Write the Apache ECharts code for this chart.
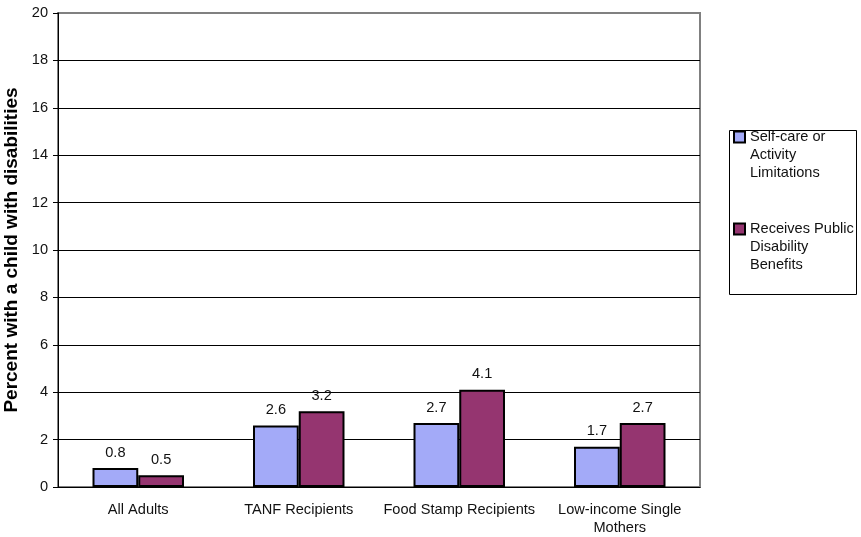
<!DOCTYPE html>
<html>
<head>
<meta charset="utf-8">
<script src="https://cdn.jsdelivr.net/npm/echarts@6/dist/echarts.min.js"></script>
<style>
  html, body { margin: 0; padding: 0; background: #fff; }
  #container { width: 861px; height: 537px; }
</style>
</head>
<body>
<div id="container"></div>
<script>
let categories = ['All Adults', 'TANF Recipients', 'Food Stamp Recipients', 'Low-income Single\nMothers'];
let selfCare = [0.8, 2.6, 2.7, 1.7];
let publicBenefits = [0.5, 3.2, 4.1, 2.7];
let seriesNames = ['Self-care or\nActivity\nLimitations', 'Receives Public\nDisability\nBenefits'];

let dom = document.getElementById("container");
let myChart = echarts.init(dom);
let font = 'Liberation Sans, Arial, sans-serif';

// split lines black, the top one grey like the plot border
let splitColors = [];
for (let i = 0; i < 10; i++) splitColors.push('#000');
splitColors.push('#808080');

let barLabel = {
    show: true,
    position: 'top',
    distance: 8,
    color: '#111',
    fontSize: 14.6,
    fontFamily: font
};

let option = {
    animation: false,
    grid: {
        left: 58, right: 161, top: 13, bottom: 50,
        outerBoundsMode: 'none',
        containLabel: false,
        show: true,
        borderColor: '#808080',
        borderWidth: 2
    },
    legend: {
        orient: 'vertical',
        left: 733,
        top: 92,
        padding: 0,
        itemGap: 2,
        itemWidth: 11,
        itemHeight: 11,
        icon: 'rect',
        selectedMode: false,
        // two blank lines in front so the icon sits beside the first line
        formatter: function (name) { return '\n\n' + name; },
        textStyle: {
            fontSize: 14.6,
            fontFamily: font,
            color: '#111',
            lineHeight: 18
        }
    },
    graphic: [{
        type: 'rect',
        shape: { x: 729.5, y: 130.5, width: 127, height: 164 },
        style: { fill: 'none', stroke: '#000', lineWidth: 1 },
        silent: true
    }],
    xAxis: {
        type: 'category',
        data: categories,
        axisLine: { lineStyle: { color: '#000', width: 1 } },
        axisTick: { length: 5, lineStyle: { color: '#000' } },
        axisLabel: {
            color: '#111',
            fontSize: 14.6,
            fontFamily: font,
            margin: 14,
            lineHeight: 18,
            interval: 0
        }
    },
    yAxis: {
        type: 'value',
        min: 0,
        max: 20,
        interval: 2,
        name: 'Percent with a child with disabilities',
        nameLocation: 'middle',
        nameGap: 37,
        nameTextStyle: {
            fontSize: 19,
            fontWeight: 'bold',
            fontFamily: font,
            color: '#000'
        },
        axisLine: { show: true, lineStyle: { color: '#000', width: 1 } },
        axisTick: { show: true, length: 5, lineStyle: { color: '#000' } },
        axisLabel: {
            color: '#111',
            fontSize: 14.6,
            fontFamily: font,
            margin: 10
        },
        splitLine: { lineStyle: { color: splitColors, width: 1 } }
    },
    series: [{
        name: seriesNames[0],
        type: 'bar',
        data: selfCare,
        barGap: '0%',
        barCategoryGap: '43%',
        itemStyle: { color: '#A3AAF8', borderColor: '#000', borderWidth: 2 },
        label: barLabel
    }, {
        name: seriesNames[1],
        type: 'bar',
        data: publicBenefits,
        itemStyle: { color: '#953570', borderColor: '#000', borderWidth: 2 },
        label: barLabel
    }]
};

myChart.setOption(option);
</script>
</body>
</html>
